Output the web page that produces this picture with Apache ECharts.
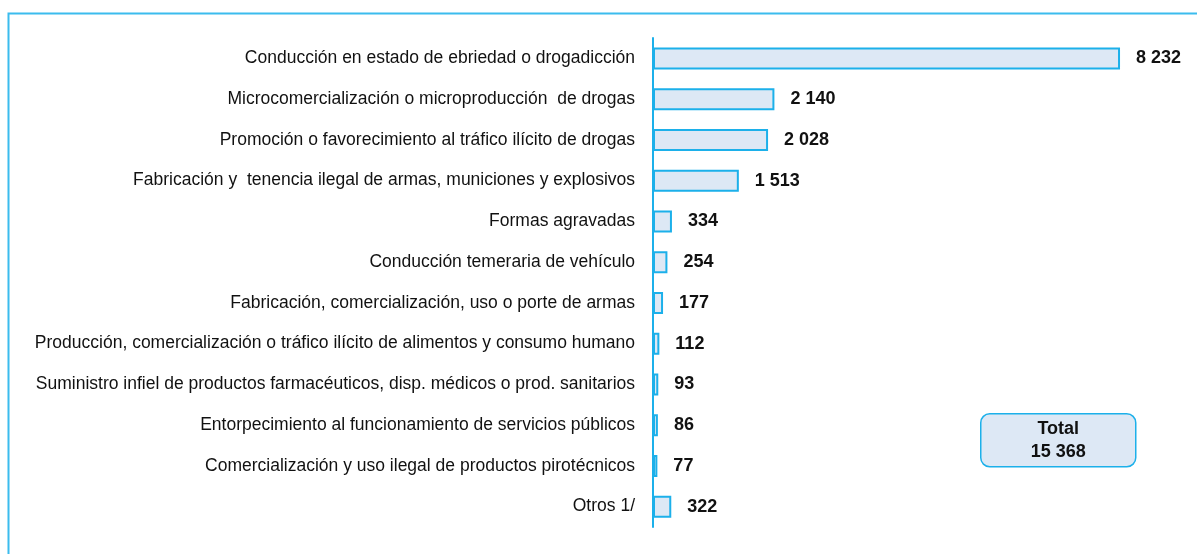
<!DOCTYPE html>
<html>
<head>
<meta charset="utf-8">
<style>
  html, body { margin: 0; padding: 0; background: #fff; }
  #chart { width: 1197px; height: 554px; }
</style>
<script src="https://cdn.jsdelivr.net/npm/echarts@6/dist/echarts.min.js"></script>
</head>
<body>
<div id="chart"></div>
<script>
// categorías (de arriba hacia abajo)
const categories = [
  'Conducción en estado de ebriedad o drogadicción',
  'Microcomercialización o microproducción  de drogas',
  'Promoción o favorecimiento al tráfico ilícito de drogas',
  'Fabricación y  tenencia ilegal de armas, municiones y explosivos',
  'Formas agravadas',
  'Conducción temeraria de vehículo',
  'Fabricación, comercialización, uso o porte de armas',
  'Producción, comercialización o tráfico ilícito de alimentos y consumo humano',
  'Suministro infiel de productos farmacéuticos, disp. médicos o prod. sanitarios',
  'Entorpecimiento al funcionamiento de servicios públicos',
  'Comercialización y uso ilegal de productos pirotécnicos',
  'Otros 1/'
];
const values = [8232, 2140, 2028, 1513, 334, 254, 177, 112, 93, 86, 77, 322];
const totalLabel = 'Total';
const totalValue = 15368;

const blue = '#1cb0ea';
const fill = '#dde8f5';
const fmt = v => String(v).replace(/\B(?=(\d{3})+(?!\d))/g, ' ');

const chart = echarts.init(document.getElementById('chart'));
chart.setOption({
  animation: false,
  grid: { left: 653, top: 38, width: 510.6, height: 489 },
  xAxis: {
    type: 'value', min: 0, max: 9000,
    show: false
  },
  yAxis: {
    type: 'category',
    data: categories,
    inverse: true,
    axisLine: { show: true, lineStyle: { color: blue, width: 2 } },
    axisTick: { show: false },
    axisLabel: {
      margin: 18,
      color: '#111',
      fontFamily: 'Liberation Sans, Arial, sans-serif',
      fontSize: 17.5
    }
  },
  series: [{
    type: 'bar',
    data: values,
    barWidth: 22,
    barMinHeight: 4,
    itemStyle: { color: fill, borderColor: blue, borderWidth: 2 },
    label: {
      show: true,
      position: 'right',
      distance: 16,
      formatter: p => fmt(p.value),
      color: '#111',
      fontWeight: 'bold',
      fontFamily: 'Liberation Sans Narrow, Arial Narrow, sans-serif',
      fontSize: 18
    }
  }],
  graphic: [
    {
      type: 'rect',
      shape: { x: 8.5, y: 13.5, width: 1300, height: 700 },
      style: { fill: 'none', stroke: '#3bbcee', lineWidth: 2 },
      silent: true
    },
    {
      type: 'group',
      left: 980, top: 413,
      children: [
        {
          type: 'rect',
          shape: { x: 0, y: 0, width: 155, height: 53, r: 9 },
          style: { fill: fill, stroke: blue, lineWidth: 1.5 }
        },
        {
          type: 'text',
          x: 77.5, y: 27,
          style: {
            text: totalLabel + '\n' + fmt(totalValue),
            align: 'center', verticalAlign: 'middle',
            fill: '#111', fontWeight: 'bold',
            fontFamily: 'Liberation Sans Narrow, Arial Narrow, sans-serif',
            fontSize: 18, lineHeight: 23
          }
        }
      ]
    }
  ]
});
</script>
</body>
</html>
